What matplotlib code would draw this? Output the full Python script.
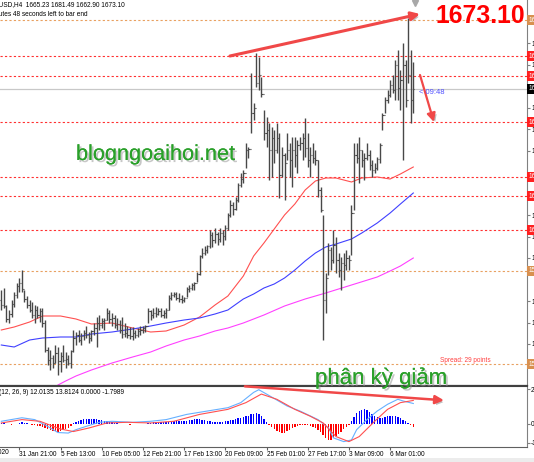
import matplotlib
matplotlib.use('Agg')
import matplotlib.pyplot as plt
import matplotlib.patheffects as pe
from matplotlib.patches import Rectangle
import numpy as np

# XAUUSD H4 bars (price scale of the main panel)
HIGHS = [1584.0, 1584.8, 1578.0, 1576.0, 1580.0, 1583.2, 1586.8, 1588.8, 1592.0, 1584.0,
         1581.6, 1580.0, 1579.2, 1578.0, 1577.6, 1576.8, 1576.8, 1572.0, 1561.2, 1560.0,
         1558.0, 1562.0, 1561.2, 1559.2, 1562.0, 1559.2, 1558.0, 1560.0, 1568.0, 1567.2,
         1568.0, 1566.8, 1568.0, 1569.6, 1567.2, 1568.0, 1570.8, 1573.2, 1574.0, 1572.8,
         1572.8, 1576.8, 1576.0, 1574.8, 1574.0, 1572.8, 1572.0, 1573.2, 1570.8, 1569.6,
         1569.2, 1569.2, 1568.0, 1568.8, 1569.6, 1569.6, 1570.0, 1576.8, 1576.0, 1576.8,
         1577.2, 1576.8, 1576.8, 1576.0, 1576.8, 1582.0, 1583.2, 1583.2, 1583.2, 1582.8,
         1582.0, 1581.2, 1585.2, 1586.0, 1586.8, 1587.2, 1591.2, 1598.0, 1600.8, 1601.6,
         1602.0, 1608.0, 1607.2, 1608.8, 1607.2, 1608.8, 1608.0, 1610.0, 1614.8, 1620.0,
         1619.2, 1621.2, 1626.8, 1630.8, 1632.0, 1642.8, 1641.2, 1670.8, 1658.8, 1678.8,
         1677.2, 1669.2, 1656.0, 1653.2, 1650.8, 1649.2, 1648.0, 1650.8, 1646.8, 1641.2,
         1638.8, 1646.8, 1642.8, 1645.2, 1645.2, 1644.0, 1645.2, 1646.8, 1652.8, 1646.8,
         1641.2, 1642.8, 1640.0, 1636.0, 1625.2, 1614.0, 1590.8, 1602.8, 1601.2, 1608.0,
         1605.2, 1598.8, 1597.2, 1598.8, 1600.0, 1598.0, 1618.0, 1642.8, 1642.8, 1645.2,
         1640.0, 1638.8, 1642.8, 1640.0, 1636.0, 1634.8, 1637.2, 1642.8, 1654.8, 1661.2,
         1664.0, 1668.0, 1670.0, 1676.0, 1680.0, 1672.0, 1682.8, 1676.0, 1692.8, 1680.0,
         1675.2]
LOWS = [1576.0, 1576.8, 1571.2, 1570.8, 1573.2, 1577.2, 1580.8, 1583.2, 1583.2, 1579.2,
        1576.8, 1575.2, 1572.8, 1570.8, 1572.8, 1571.2, 1569.2, 1559.2, 1554.0, 1552.0,
        1552.8, 1554.8, 1550.0, 1551.2, 1555.2, 1552.8, 1554.0, 1552.8, 1559.2, 1562.0,
        1563.2, 1562.0, 1564.0, 1564.8, 1562.8, 1563.6, 1566.0, 1561.2, 1568.0, 1568.8,
        1568.0, 1572.0, 1570.8, 1569.6, 1568.8, 1568.0, 1566.8, 1564.8, 1565.2, 1564.8,
        1564.4, 1564.0, 1564.8, 1565.2, 1566.0, 1566.8, 1567.2, 1570.8, 1572.0, 1572.8,
        1573.2, 1574.0, 1573.2, 1572.8, 1572.8, 1576.0, 1580.0, 1581.2, 1580.0, 1579.2,
        1578.8, 1579.2, 1581.2, 1583.2, 1584.0, 1584.0, 1587.2, 1590.0, 1596.8, 1598.0,
        1598.8, 1600.8, 1601.2, 1602.8, 1602.0, 1603.2, 1602.0, 1604.0, 1608.0, 1613.2,
        1614.0, 1616.0, 1619.2, 1625.2, 1626.8, 1632.8, 1636.8, 1646.8, 1652.0, 1665.2,
        1664.0, 1661.2, 1644.0, 1641.2, 1628.0, 1629.2, 1634.8, 1638.8, 1620.8, 1629.2,
        1620.0, 1636.0, 1629.2, 1625.2, 1633.2, 1630.8, 1640.0, 1636.0, 1637.2, 1633.2,
        1629.2, 1634.8, 1634.0, 1621.2, 1615.2, 1564.0, 1574.8, 1590.0, 1592.0, 1594.8,
        1590.8, 1589.2, 1584.0, 1588.0, 1592.0, 1592.0, 1598.0, 1616.0, 1634.8, 1626.8,
        1633.2, 1628.0, 1636.0, 1632.0, 1629.2, 1630.8, 1632.0, 1634.8, 1648.0, 1654.8,
        1658.8, 1661.2, 1662.8, 1660.0, 1660.0, 1656.0, 1636.0, 1657.2, 1666.8, 1650.8,
        1654.8]
CLOSES = [1578.0, 1577.5, 1572.5, 1574.5, 1578.5, 1582.0, 1585.5, 1587.0, 1584.5, 1580.5,
          1578.0, 1576.0, 1574.0, 1576.0, 1574.0, 1575.5, 1571.0, 1560.0, 1556.0, 1557.0,
          1555.0, 1559.0, 1555.5, 1557.5, 1556.0, 1556.5, 1555.0, 1559.5, 1565.0, 1566.0,
          1564.0, 1565.5, 1567.0, 1566.0, 1565.0, 1567.5, 1569.0, 1571.0, 1570.0, 1571.5,
          1572.0, 1575.0, 1572.5, 1573.0, 1570.0, 1570.5, 1568.0, 1566.5, 1567.0, 1566.0,
          1565.5, 1567.0, 1566.0, 1567.5, 1568.0, 1569.0, 1569.5, 1575.5, 1574.0, 1575.0,
          1574.5, 1575.5, 1574.0, 1575.0, 1576.0, 1581.0, 1582.0, 1582.5, 1581.0, 1580.5,
          1580.0, 1581.0, 1584.5, 1585.0, 1586.0, 1587.0, 1590.5, 1597.5, 1599.0, 1600.0,
          1601.5, 1606.0, 1604.0, 1606.5, 1604.5, 1607.0, 1605.5, 1609.0, 1614.0, 1618.0,
          1616.5, 1620.0, 1626.0, 1628.5, 1631.0, 1640.0, 1640.5, 1655.0, 1657.0, 1667.0,
          1670.0, 1662.5, 1647.0, 1648.0, 1640.0, 1645.0, 1640.0, 1645.0, 1630.0, 1638.0,
          1635.0, 1640.0, 1636.0, 1640.0, 1638.0, 1642.0, 1643.0, 1645.0, 1641.0, 1636.0,
          1638.0, 1637.0, 1636.0, 1624.0, 1616.0, 1580.0, 1589.0, 1600.0, 1596.0, 1602.0,
          1596.0, 1592.0, 1595.0, 1594.0, 1597.0, 1596.0, 1615.0, 1638.0, 1637.0, 1640.0,
          1636.0, 1637.0, 1638.0, 1634.0, 1632.0, 1633.0, 1636.5, 1642.0, 1654.0, 1660.0,
          1662.0, 1666.0, 1664.0, 1674.0, 1665.0, 1668.0, 1674.0, 1660.0, 1670.0, 1660.0,
          1664.4]
FIRST_OPEN = 1580.0

# moving averages (sampled along the curves)
MA_IDX = [0, 5, 11, 16, 23, 29, 35, 43, 51, 58, 64, 71, 77, 83, 88, 94, 98, 102, 106,
          110, 114, 118, 122, 126, 130, 136, 140, 146, 151, 155, 160]
RED_MA = [1568.0, 1569.2, 1571.2, 1573.6, 1573.6, 1572.4, 1570.4, 1570.8, 1568.8, 1567.2,
          1567.6, 1570.0, 1573.2, 1578.0, 1581.6, 1589.6, 1597.6, 1602.8, 1608.4, 1614.0,
          1618.4, 1624.0, 1627.6, 1628.8, 1628.8, 1627.2, 1628.8, 1629.2, 1628.4, 1630.4,
          1633.2]
BLUE_MA = [1562.0, 1561.2, 1564.0, 1564.8, 1565.2, 1565.2, 1566.4, 1567.2, 1568.4, 1569.6,
           1570.8, 1572.0, 1572.8, 1574.4, 1576.0, 1580.4, 1582.4, 1584.8, 1586.4, 1588.8,
           1592.0, 1595.6, 1598.8, 1601.2, 1602.4, 1604.4, 1606.8, 1610.8, 1614.8, 1618.4,
           1622.8]
MAGENTA_IDX = [22, 25, 29, 35, 43, 51, 58, 64, 71, 77, 83, 88, 94, 102, 110, 118, 126,
               136, 146, 151, 155, 160]
MAGENTA_MA = [1546.0, 1547.6, 1549.6, 1552.0, 1554.8, 1557.2, 1559.2, 1561.6, 1564.0,
              1565.6, 1567.6, 1568.8, 1570.8, 1574.0, 1577.6, 1580.4, 1582.8, 1586.0,
              1589.2, 1591.6, 1593.6, 1596.8]

# horizontal levels
RED_LEVELS = [1677.6, 1669.6, 1651.2, 1629.2, 1621.6, 1608.0]
ORANGE_LEVELS = [1692.0, 1591.6, 1554.4]
BID = 1664.4
PRICE_TICKS = [1682.8, 1674.2, 1657.0, 1648.4, 1639.8, 1614.0,
               1605.4, 1596.8, 1579.6, 1571.0, 1562.4]

# MACD(12,26,9)
HIST = [0.3, 0.4, -0.3, -0.5, -0.6, -0.4, -0.2, 0.5, 0.8, 0.6,
        0.3, -0.3, -0.6, -0.9, -1.3, -1.7, -2.2, -2.8, -3.4, -3.9,
        -4.3, -4.6, -4.7, -4.5, -4.0, -3.3, -2.4, -1.4, 0.4, 1.2,
        1.8, 2.2, 2.5, 2.7, 2.8, 2.8, 2.7, 2.5, 2.3, 2.0,
        1.7, 1.4, 1.1, 0.8, 0.5, 0.2, -0.2, -0.4, -0.5, -0.5,
        -0.6, -0.5, -0.5, -0.4, -0.4, -0.3, -0.2, 0.2, 0.5, 0.7,
        0.8, 0.9, 0.9, 1.0, 1.0, 1.2, 1.4, 1.5, 1.5, 1.4,
        1.4, 1.5, 1.8, 2.1, 2.4, 2.6, 2.8, 2.6, 2.3, 1.9,
        1.6, 1.4, 1.2, 1.0, 0.9, 0.9, 1.0, 1.3, 1.6, 2.0,
        2.4, 2.8, 3.2, 3.6, 4.0, 4.4, 4.8, 5.5, 6.0, 6.5,
        5.8, 4.6, 2.8, 1.0, -0.8, -2.0, -3.2, -4.3, -5.2, -5.6,
        -5.4, -4.6, -3.6, -2.6, -1.8, -1.2, -0.9, -0.8, -0.9, -1.1,
        -1.4, -1.8, -2.6, -3.6, -5.0, -7.0, -8.6, -9.7, -9.5, -8.8,
        -7.6, -6.2, -4.8, -3.4, -2.0, -0.8, 1.5, 4.0, 6.2, 7.6,
        8.4, 8.5, 8.1, 7.2, 6.0, 4.8, 3.8, 3.4, 3.6, 4.2,
        4.6, 4.8, 4.8, 4.6, 4.2, 3.4, 2.4, 1.4, 0.6, -1.0,
        -1.8]
MACD_IDX = [0, 8, 13, 18, 22, 26, 29, 33, 38, 43, 51, 58, 64, 72, 80, 88, 93, 98, 100,
            103, 111, 116, 123, 127, 129, 133, 136, 138, 142, 146, 150, 154, 156, 160]
MACD_VAL = [1.4, 3.5, 2.4, -1.6, -5.3, -5.6, -3.6, -1.6, 0.8, 1.4, 0.8, 1.4, 2.4, 5.5,
            7.5, 9.5, 12.5, 18.6, 20.2, 17.6, 10.5, 7.5, 2.4, -2.4, -8.5, -10.7, -9.7,
            -3.6, 2.4, 7.5, 11.5, 14.5, 13.5, 12.0]
SIGNAL_IDX = [0, 8, 15, 23, 28, 34, 41, 49, 58, 67, 77, 88, 95, 101, 107, 114, 120, 125,
              130, 135, 139, 145, 150, 155, 160]
SIGNAL_VAL = [0.4, 2.4, 1.4, -3.2, -4.7, -2.6, 0.4, 0.8, 0.4, 1.4, 5.5, 8.5, 12.5, 17.6,
              14.5, 8.5, 4.4, 0.4, -7.7, -10.7, -7.7, 1.4, 8.5, 12.5, 13.8]

TIME_IDX = [7, 23, 39, 55, 71, 87, 103, 119, 135, 151]
TIME_LABELS = ['31 Jan 21:00', '5 Feb 13:00', '10 Feb 05:00', '12 Feb 21:00', '17 Feb 13:00',
               '20 Feb 09:00', '25 Feb 01:00', '27 Feb 17:00', '3 Mar 09:00', '6 Mar 01:00']

assert len(HIGHS) == len(LOWS) == len(CLOSES) == len(HIST)

W, H = 534, 462
SMALL = 4.7
FONT = ['Liberation Sans', 'DejaVu Sans']
plt.rcParams['font.family'] = FONT

fig = plt.figure(figsize=(W / 100, H / 100), dpi=100)
ax = fig.add_axes([0, 77 / H, 527 / W, 385 / H])
ax2 = fig.add_axes([0, 15 / H, 527 / W, 61 / H])

idx = np.arange(len(HIGHS))
opens = [FIRST_OPEN] + CLOSES[:-1]

# --- main panel ---
for lv in RED_LEVELS:
    ax.axhline(lv, color='#ff3030', lw=0.8, ls=(0, (2, 2)), zorder=1)
for lv in ORANGE_LEVELS:
    ax.axhline(lv, color='#e8a060', lw=0.8, ls=(0, (2, 2)), zorder=1)
ax.axhline(BID, color='#c8c8c8', lw=0.9, zorder=1)

ax.plot(MA_IDX, RED_MA, color='#ff5050', lw=0.8, zorder=2)
ax.plot(MA_IDX, BLUE_MA, color='#4040ff', lw=0.8, zorder=2)
ax.plot(MAGENTA_IDX, MAGENTA_MA, color='#ff40ff', lw=0.8, zorder=2)

bar_col = '#484848'
ax.vlines(idx, LOWS, HIGHS, color=bar_col, lw=1.0, zorder=3)
ax.hlines(opens, idx - 0.45, idx, color=bar_col, lw=0.8, zorder=3)
ax.hlines(CLOSES, idx, idx + 0.45, color=bar_col, lw=0.8, zorder=3)

ax.set_xlim(-0.505, 204.16)
ax.set_ylim(1546, 1700)
ax.set_xticks([])
ax.yaxis.tick_right()
ax.set_yticks(PRICE_TICKS)
ax.set_yticklabels([f'{p:.2f}' for p in PRICE_TICKS])
ax.tick_params(axis='y', labelsize=SMALL, length=2, pad=1, color='#808080')
for s in ['left', 'top']:
    ax.spines[s].set_visible(False)
ax.spines['right'].set_color('#808080')
ax.spines['right'].set_linewidth(0.8)
ax.spines['bottom'].set_color('#404040')
ax.spines['bottom'].set_linewidth(0.9)

# price tags on the scale
tr = ax.get_yaxis_transform()
tags = [(p, '#ff2020') for p in RED_LEVELS] + [(p, '#d89050') for p in ORANGE_LEVELS] + [(BID, '#000000')]
for p, c in tags:
    ax.text(1.003, p, f'{p:.2f}', transform=tr, fontsize=SMALL, color='white', va='center',
            ha='left', clip_on=False, zorder=6,
            bbox=dict(boxstyle='square,pad=0.2', fc=c, ec='none'))

# chart shift marker
ax.plot([160.7], [1698.8], marker='v', color='#a8a8a8', ms=4, clip_on=False)

# annotations drawn by the author
shadow = [pe.withSimplePatchShadow(offset=(1.5, -1.5), shadow_rgbFace='#808080', alpha=0.5)]
arrow_kw = dict(arrowstyle='-|>,head_length=0.5,head_width=0.25', color='#f04848', lw=2.2,
                shrinkA=0, shrinkB=0, path_effects=shadow)
ax.annotate('', xy=(162.6, 1694.4), xytext=(88.8, 1677.6), arrowprops=arrow_kw,
            annotation_clip=False)
ax.annotate('', xy=(168.0, 1651.2), xytext=(162.6, 1670.0),
            arrowprops=dict(arrow_kw, lw=1.6), annotation_clip=False)

# --- MACD panel ---
cols = ['#0000ff' if v > 0 else '#ff0000' for v in HIST]
ax2.bar(idx, HIST, width=0.55, color=cols, zorder=2)
ax2.plot(MACD_IDX, MACD_VAL, color='#66b0ff', lw=0.8, zorder=3)
ax2.plot(SIGNAL_IDX, SIGNAL_VAL, color='#ff5050', lw=0.8, zorder=3)
ax2.set_xlim(-0.505, 204.16)
ax2.set_ylim(-13.9, 22.4)
ax2.yaxis.tick_right()
ax2.set_yticks([20.35, 0, -11.45])
ax2.set_yticklabels(['20.3485', '0.00', '-11.4542'])
ax2.tick_params(axis='y', labelsize=SMALL, length=2, pad=1, color='#808080')
ax2.set_xticks(TIME_IDX)
ax2.set_xticklabels(TIME_LABELS, ha='left')
ax2.tick_params(axis='x', labelsize=SMALL, length=2, pad=1.2, color='#606060')
ax2.spines['left'].set_visible(False)
ax2.spines['right'].set_color('#808080')
ax2.spines['right'].set_linewidth(0.8)
ax2.spines['top'].set_color('#404040')
ax2.spines['top'].set_linewidth(0.8)
ax2.spines['bottom'].set_color('#606060')
ax2.spines['bottom'].set_linewidth(0.8)
ax2.text(3.0, -0.095, '30 Jan 2020', transform=ax2.get_xaxis_transform(), fontsize=SMALL,
         ha='right', va='center', clip_on=False)
ax2.annotate('', xy=(171.9, 13.9), xytext=(94.6, 22.2), arrowprops=dict(arrow_kw, lw=1.8),
             annotation_clip=False)

# --- texts ---
def px(x, y):
    return x / W, 1 - y / H

fig.text(*px(-14.6, 5), 'XAUUSD,H4  1665.23 1681.49 1662.90 1673.10', fontsize=SMALL,
         va='center', ha='left')
fig.text(*px(-17, 15), '9 minutes 48 seconds left to bar end', fontsize=SMALL,
         va='center', ha='left')
fig.text(*px(-20.4, 393), 'MACD(12, 26, 9) 12.0135 13.8124 0.0000 -1.7989', fontsize=SMALL,
         va='center', ha='left')
fig.text(*px(525, 16), '1673.10', fontsize=17.8, fontweight='bold', color='#ff0000',
         ha='right', va='center')
fig.text(*px(419, 92), '< 09:48', fontsize=5.5, color='#5050ff', ha='left', va='center')
fig.text(*px(440, 360), 'Spread: 29 points', fontsize=SMALL, color='#ff4040',
         ha='left', va='center')

txt_shadow = [pe.withSimplePatchShadow(offset=(1.5, -1.5), shadow_rgbFace='#909090', alpha=0.5),
              pe.Normal()]
fig.text(*px(76, 160), 'blogngoaihoi.net', fontsize=15.6, color='#2aa02a',
         ha='left', va='baseline', path_effects=txt_shadow)
fig.text(*px(315, 384), 'phân kỳ giảm', fontsize=16, color='#2aa02a',
         ha='left', va='baseline', path_effects=txt_shadow)

fig.patches.append(Rectangle((0, 0), 1, 4 / H, transform=fig.transFigure,
                             fc='#ececec', ec='none'))

fig.savefig('out.png', dpi=100)
